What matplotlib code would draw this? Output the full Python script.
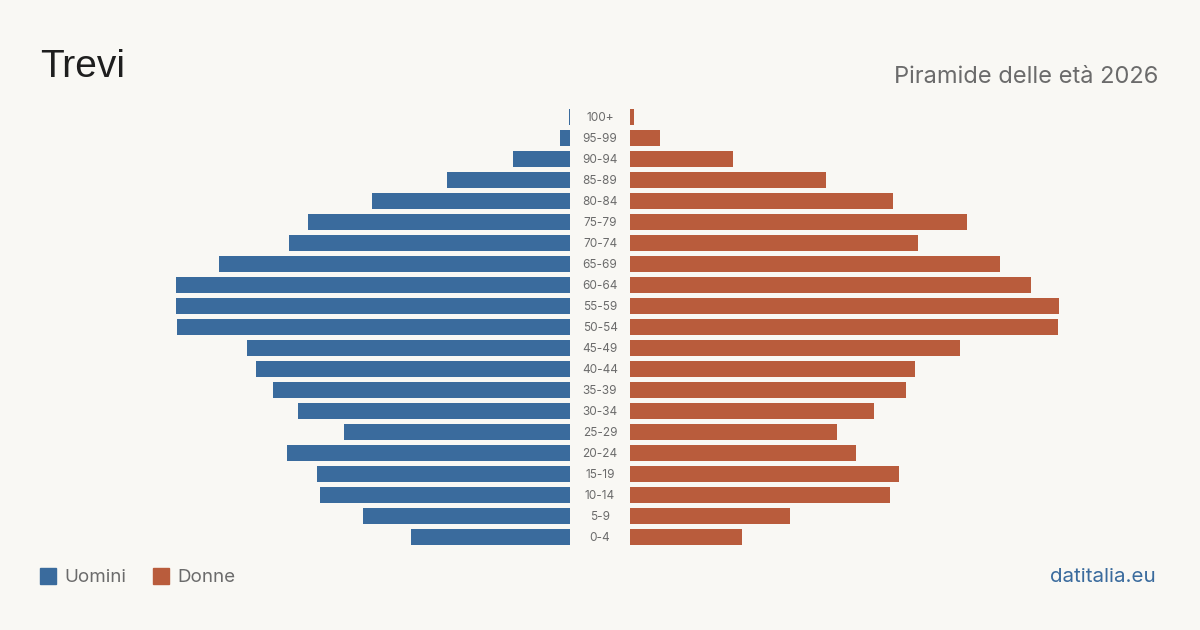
import matplotlib.pyplot as plt

# Age groups, top to bottom
ages = ['100+', '95-99', '90-94', '85-89', '80-84', '75-79', '70-74', '65-69',
        '60-64', '55-59', '50-54', '45-49', '40-44', '35-39', '30-34', '25-29',
        '20-24', '15-19', '10-14', '5-9', '0-4']
uomini = [1, 8, 45, 97, 156, 206, 221, 276, 310, 310, 309, 254, 247, 234,
          214, 178, 223, 199, 197, 163, 125]
donne = [3, 24, 81, 154, 207, 265, 227, 291, 316, 338, 337, 260, 224, 217,
         192, 163, 178, 212, 205, 126, 88]

BG = '#f9f8f4'
BLUE = '#3a6b9d'
ORANGE = '#b95c3c'
W, H = 1200, 630
XMAX = 370

fig = plt.figure(figsize=(12, 6.3), dpi=100, facecolor=BG)

def px_axes(x0, x1, y0, y1):
    # pixel box (top-left origin) -> figure axes
    return fig.add_axes([x0 / W, 1 - y1 / H, (x1 - x0) / W, (y1 - y0) / H])

ax_l = px_axes(100, 570, 106.5, 547.5)
ax_r = px_axes(630, 1100, 106.5, 547.5)

pos = list(range(len(ages)))
ax_l.barh(pos, uomini, height=0.8, color=BLUE)
ax_r.barh(pos, donne, height=0.8, color=ORANGE)

for ax in (ax_l, ax_r):
    ax.set_ylim(len(ages) - 0.5, -0.5)
    ax.set_facecolor('none')
    ax.axis('off')
ax_l.set_xlim(XMAX, 0)
ax_r.set_xlim(0, XMAX)

for i, a in enumerate(ages):
    ax_l.annotate(a, xy=(1, i), xycoords=('axes fraction', 'data'),
                  xytext=(30 * 0.72, -1), textcoords='offset points',
                  ha='center', va='center', fontsize=8.5, color='#6b6b6b',
                  family='Inter')

fig.text(40 / W, 1 - 67 / H, 'Trevi', fontsize=28, color='#1e1e1e',
         ha='left', va='center', family='Liberation Sans')
fig.text(1158 / W, 1 - 77 / H, 'Piramide delle età 2026', fontsize=17,
         color='#6b6b6b', ha='right', va='center', family='Inter')

# legend
fig.patches.append(plt.Rectangle((40 / W, 1 - 584 / H), 16 / W, 16 / H,
                                 transform=fig.transFigure, color=BLUE))
fig.text(64 / W, 1 - 577 / H, 'Uomini', fontsize=13.5, color='#6b6b6b',
         ha='left', va='center', family='Inter')
fig.patches.append(plt.Rectangle((153 / W, 1 - 584 / H), 16 / W, 16 / H,
                                 transform=fig.transFigure, color=ORANGE))
fig.text(177 / W, 1 - 577 / H, 'Donne', fontsize=13.5, color='#6b6b6b',
         ha='left', va='center', family='Inter')

fig.text(1156 / W, 1 - 577 / H, 'datitalia.eu', fontsize=14.8, color=BLUE,
         ha='right', va='center', family='Inter')

plt.savefig('out.png', dpi=100, facecolor=BG)
